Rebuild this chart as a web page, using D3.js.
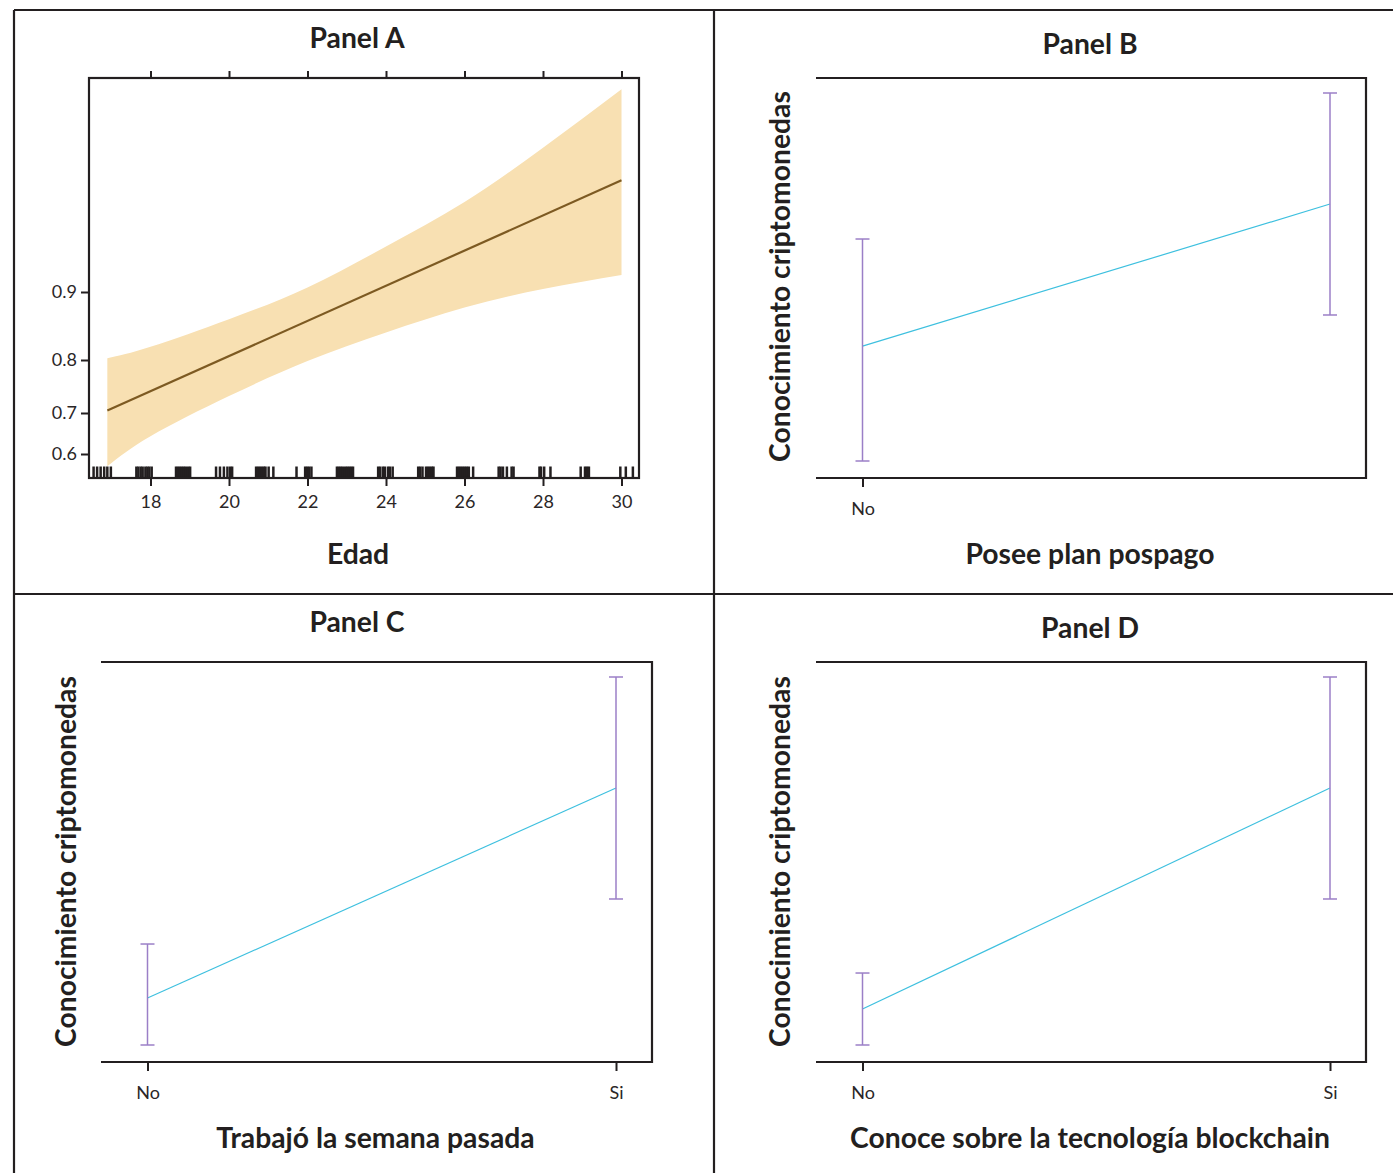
<!DOCTYPE html>
<html>
<head>
<meta charset="utf-8">
<script src="https://cdn.jsdelivr.net/npm/d3@7"></script>
<style>
  html, body { margin: 0; padding: 0; background: #ffffff; }
  svg { display: block; }
  .tick text { font-family: Lato, "Open Sans", sans-serif; font-size: 18px; fill: #2a2627; }
  .tick line, .domain { stroke: #231f20; }
  .ttl { font-family: Lato, "Open Sans", sans-serif; font-weight: 700; fill: #231f20; }
</style>
</head>
<body>
<div id="chart"></div>
<script>
// ---- Panel A: probability of knowing cryptocurrencies by age (logit fit) ----
const ageTicks = [18, 20, 22, 24, 26, 28, 30];
const probTicks = [0.6, 0.7, 0.8, 0.9];
const bandAge   = [16.9, 18, 20, 22, 24, 26, 28, 30];
const bandLower = [0.5678, 0.6450, 0.7348, 0.7983, 0.8474, 0.8821, 0.9031, 0.9168];
const bandUpper = [0.8032, 0.8239, 0.8668, 0.9048, 0.9393, 0.9634, 0.9805, 0.9902];
const fitAge  = [16.9, 30];
const fitProb = [0.7053, 0.9715];
// observed ages (jittered) shown as a rug along the bottom
const rugAge = [
  16.55, 16.64, 16.73, 16.82, 16.90, 16.99,
  17.64, 17.69, 17.75, 17.80, 17.87, 17.92, 17.97, 18.03,
  18.65, 18.70, 18.75, 18.80, 18.85, 18.90, 18.96, 19.01,
  19.67, 19.77, 19.87, 19.96, 20.03, 20.08,
  20.69, 20.74, 20.79, 20.84, 20.89, 20.93, 21.01, 21.13,
  21.72, 21.94, 21.99, 22.04, 22.10,
  22.75, 22.80, 22.85, 22.90, 22.96, 23.01, 23.06, 23.11, 23.16,
  23.80, 23.85, 23.92, 23.97, 24.05, 24.10, 24.17,
  24.82, 24.87, 24.93, 25.02, 25.07, 25.12, 25.17, 25.21,
  25.81, 25.86, 25.91, 25.96, 26.01, 26.06, 26.11, 26.22,
  26.87, 26.92, 26.98, 27.08, 27.20, 27.25,
  27.91, 27.95, 28.03, 28.19,
  28.96, 29.07, 29.12, 29.17,
  29.97, 30.11, 30.29
];

// ---- Panels B, C, D: fitted probability with 95% interval, by category ----
const categories = ["No", "Si"];
const fitB   = [0.7262, 0.8574];
const lowerB = [0.6200, 0.7549];
const upperB = [0.8251, 0.9600];
const ticksB = ["No"];

const fitC   = [0.6634, 0.8574];
const lowerC = [0.6200, 0.7549];
const upperC = [0.7133, 0.9600];
const ticksC = ["No", "Si"];

const fitD   = [0.6533, 0.8574];
const lowerD = [0.6200, 0.7549];
const upperD = [0.6865, 0.9600];
const ticksD = ["No", "Si"];

const titles = ["Panel A", "Panel B", "Panel C", "Panel D"];
const xTitles = ["Edad", "Posee plan pospago", "Trabajó la semana pasada", "Conoce sobre la tecnología blockchain"];
const yTitle = "Conocimiento criptomonedas";

// ---------------------------------------------------------------------------
const W = 1393, H = 1173;
const INK = "#231f20";
const TITLE_SIZE = 28.3;
const svg = d3.select("#chart").append("svg").attr("width", W).attr("height", H);

// outer frame and panel dividers
const frame = svg.append("g").attr("stroke", INK).attr("stroke-width", 2.2);
[[14, 10, 1393, 10], [14, 10, 14, 1173], [714, 10, 714, 1173], [14, 594, 1393, 594]]
  .forEach(([x1, y1, x2, y2]) => frame.append("line").attr("x1", x1).attr("y1", y1).attr("x2", x2).attr("y2", y2));

function title(text, x, y) {
  svg.append("text").attr("class", "ttl").attr("x", x).attr("y", y)
    .attr("text-anchor", "middle").style("font-size", TITLE_SIZE + "px").text(text);
}
function vTitle(text, x, y) {
  svg.append("text").attr("class", "ttl")
    .attr("transform", `translate(${x},${y}) rotate(-90)`)
    .attr("text-anchor", "middle").style("font-size", TITLE_SIZE + "px").text(text);
}

// ---------------- Panel A ----------------
const logit = p => Math.log(p / (1 - p));
const invlogit = l => 1 / (1 + Math.exp(-l));
const boxA = { x0: 89, x1: 639, y0: 78, y1: 478 };
const xA = d3.scaleLinear().domain([18, 30]).range([150.5, 621.5]);
const yA = d3.scaleLinear().domain(probTicks.map(logit)).range([454, 413, 360, 292]);

const bandData = bandAge.map((a, i) => ({ age: a, lo: bandLower[i], hi: bandUpper[i] }));
svg.append("path")
  .datum(bandData)
  .attr("fill", "#f8e0b2")
  .attr("d", d3.area()
    .x(d => xA(d.age))
    .y0(d => yA(logit(d.lo)))
    .y1(d => yA(logit(d.hi)))
    .curve(d3.curveNatural));

svg.append("path")
  .datum(fitAge.map((a, i) => ({ age: a, p: fitProb[i] })))
  .attr("fill", "none").attr("stroke", "#7d5a22").attr("stroke-width", 2.2)
  .attr("d", d3.line().x(d => xA(d.age)).y(d => yA(logit(d.p))));

svg.append("g").selectAll("line").data(rugAge).join("line")
  .attr("x1", d => xA(d)).attr("x2", d => xA(d))
  .attr("y1", boxA.y1 - 11.5).attr("y2", boxA.y1)
  .attr("stroke", INK).attr("stroke-width", 2.5);

svg.append("rect")
  .attr("x", boxA.x0).attr("y", boxA.y0)
  .attr("width", boxA.x1 - boxA.x0).attr("height", boxA.y1 - boxA.y0)
  .attr("fill", "none").attr("stroke", INK).attr("stroke-width", 2.2);

const axA = svg.append("g").attr("transform", `translate(0,${boxA.y1})`)
  .call(d3.axisBottom(xA).tickValues(ageTicks).tickSize(8).tickSizeOuter(0).tickPadding(9));
axA.select(".domain").remove();
axA.selectAll(".tick line").attr("stroke-width", 2);

const axAtop = svg.append("g").attr("transform", `translate(0,${boxA.y0})`)
  .call(d3.axisTop(xA).tickValues(ageTicks).tickSize(7).tickSizeOuter(0).tickFormat(""));
axAtop.select(".domain").remove();
axAtop.selectAll(".tick line").attr("stroke-width", 2);

const axAleft = svg.append("g").attr("transform", `translate(${boxA.x0},0)`)
  .call(d3.axisLeft(yA).tickValues(probTicks.map(logit)).tickSize(8).tickPadding(4)
    .tickFormat(l => d3.format(".1f")(invlogit(l))));
axAleft.select(".domain").remove();
axAleft.selectAll(".tick line").attr("stroke-width", 2);

title(titles[0], 357, 47.5);
title(xTitles[0], 358, 564);

// ---------------- Panels B, C, D ----------------
function categoryPanel(box, fit, lower, upper, shownTicks) {
  const g = svg.append("g");
  const x = d3.scalePoint().domain(categories).range([box.x0 + 46.5, box.x1 - 36]);
  const y = d3.scaleLinear()
    .domain([d3.min(lower), d3.max(upper)])
    .range([box.y1 - 17, box.y0 + 15]);

  // open frame: top, right and bottom sides only
  g.append("path")
    .attr("d", `M${box.x0},${box.y0}H${box.x1}V${box.y1}H${box.x0}`)
    .attr("fill", "none").attr("stroke", INK).attr("stroke-width", 2.2);

  const ax = g.append("g").attr("transform", `translate(0,${box.y1})`)
    .call(d3.axisBottom(x).tickValues(shownTicks).tickSize(9).tickSizeOuter(0).tickPadding(15));
  ax.select(".domain").remove();
  ax.selectAll(".tick line").attr("stroke-width", 2);

  const rows = categories.map((c, i) => ({ c, fit: fit[i], lo: lower[i], hi: upper[i] }));

  g.append("path")
    .datum(rows)
    .attr("fill", "none").attr("stroke", "#3ec0df").attr("stroke-width", 1.2)
    .attr("d", d3.line().x(d => x(d.c)).y(d => y(d.fit)));

  const bars = g.append("g").attr("stroke", "#9b7fc7").attr("stroke-width", 1.5).attr("fill", "none");
  rows.forEach(d => {
    const cx = x(d.c);
    bars.append("line").attr("x1", cx).attr("x2", cx).attr("y1", y(d.lo)).attr("y2", y(d.hi));
    bars.append("line").attr("x1", cx - 7).attr("x2", cx + 7).attr("y1", y(d.lo)).attr("y2", y(d.lo));
    bars.append("line").attr("x1", cx - 7).attr("x2", cx + 7).attr("y1", y(d.hi)).attr("y2", y(d.hi));
  });
}

const boxB = { x0: 816, x1: 1366, y0: 78, y1: 478 };
const boxC = { x0: 101, x1: 652, y0: 662, y1: 1062 };
const boxD = { x0: 816, x1: 1366, y0: 662, y1: 1062 };

categoryPanel(boxB, fitB, lowerB, upperB, ticksB);
categoryPanel(boxC, fitC, lowerC, upperC, ticksC);
categoryPanel(boxD, fitD, lowerD, upperD, ticksD);

title(titles[1], 1090, 53.5);
title(titles[2], 357, 631.5);
title(titles[3], 1090, 637.5);

title(xTitles[1], 1090, 564);
title(xTitles[2], 375.5, 1148);
title(xTitles[3], 1090, 1148);

vTitle(yTitle, 790, 276.5);
vTitle(yTitle, 76, 861.5);
vTitle(yTitle, 790, 861.5);
</script>
</body>
</html>
